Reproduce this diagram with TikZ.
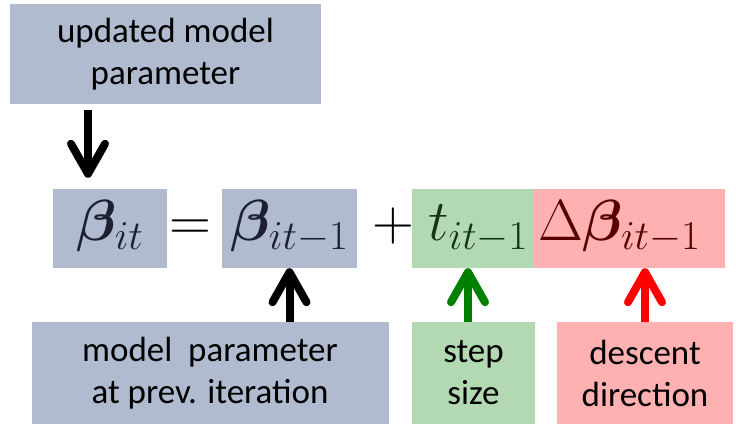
\RequirePackage{fix-cm}
\documentclass[tikz,border=0pt]{standalone}
\usepackage{fontspec}
\usepackage{amsmath,bm}
\usetikzlibrary{arrows.meta}
\newfontfamily\calibri{Carlito}
\DeclareMathSizes{58}{58}{41}{30}
\definecolor{parblue}{RGB}{176,187,208}
\definecolor{stepgreen}{RGB}{179,217,179}
\definecolor{descred}{RGB}{255,176,176}
\definecolor{parink}{RGB}{28,32,48}
\definecolor{stepink}{RGB}{22,52,22}
\definecolor{descink}{RGB}{88,0,0}
\definecolor{steparrow}{RGB}{0,128,0}
\begin{document}
\begin{tikzpicture}[x=1pt,y=-1pt,
  labelbox/.style={inner sep=0pt,align=center,font=\calibri\fontsize{35}{42}\selectfont},
  eqbox/.style={inner sep=0pt,text height=52pt,text depth=27pt,anchor=base,font=\fontsize{58}{64}\selectfont},
  arr/.style={line width=8pt,-{Straight Barb[length=30pt,width=34pt,line cap=round,line join=round]}}]
\useasboundingbox (0,0) rectangle (736,427);
% explanation on top
\node[labelbox,fill=parblue,minimum width=311pt,minimum height=100pt] (upd) at (165.5,54) {updated model\\parameter};
% the update rule
\node[eqbox,fill=parblue,text=parink,minimum width=114pt] (bit) at (110,241) {$\bm\beta_{it}$};
\node[eqbox] (eq) at (190,241) {$=$};
\node[eqbox,fill=parblue,text=parink,minimum width=135pt] (bprev) at (289.5,241) {$\bm\beta_{it-1}$};
\node[eqbox] (plus) at (393,241) {$+$};
\node[eqbox,fill=stepgreen,text=stepink,minimum width=122pt] (tstep) at (473,241) {\makebox[110pt][r]{$t_{it-1}$}};
\node[eqbox,fill=descred,text=descink,minimum width=191pt] (dbeta) at (629.5,241) {\makebox[183pt][l]{$\Delta\bm\beta_{it-1}$}};
% explanations below
\node[labelbox,fill=parblue,minimum width=357pt,minimum height=102pt] (prev) at (210,373) {model\ \ parameter\\at prev. iteration};
\node[labelbox,fill=stepgreen,minimum width=123pt,minimum height=102pt] (ss) at (473.5,373) {step\\size};
\node[labelbox,fill=descred,minimum width=176pt,minimum height=102pt] (dd) at (645,373) {descent\\direction};
% arrows
\draw[arr] ([xshift=-77.5pt,yshift=-6pt]upd.south) -- ([xshift=-22pt,yshift=11pt]bit.north);
\draw[arr] (bprev.south |- prev.north) -- (bprev.south);
\draw[arr,steparrow] ([xshift=-5.5pt]ss.north) -- ([xshift=-5.5pt]ss.north |- tstep.south);
\draw[arr,red] (dd.north) -- (dd.north |- dbeta.south);
\end{tikzpicture}
\end{document}
